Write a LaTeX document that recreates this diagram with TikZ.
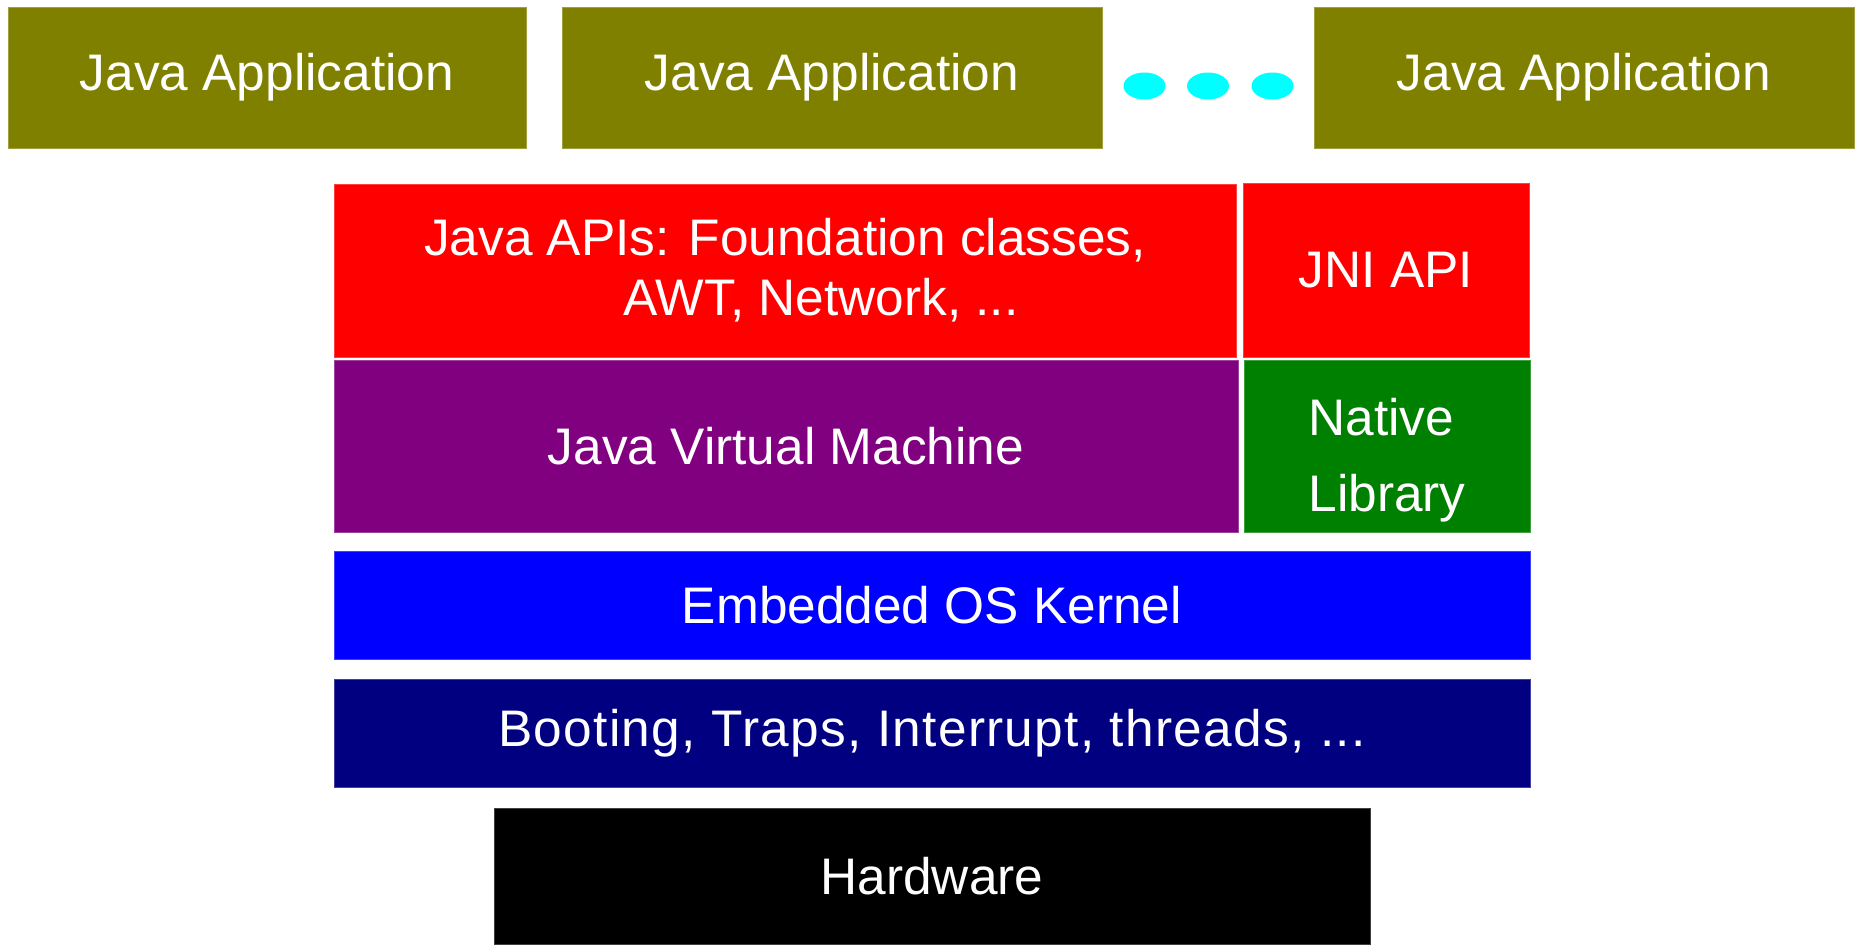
\documentclass[tikz,border=0pt]{standalone}
\usepackage{fontspec}
\setmainfont{Liberation Sans}
\usepackage{tikz}
\usetikzlibrary{
  shapes.geometric,
  positioning
}
\definecolor{appolive}{RGB}{128,128,0}
\definecolor{apired}{RGB}{255,0,0}
\definecolor{jvmpurple}{RGB}{128,0,128}
\definecolor{libgreen}{RGB}{0,128,0}
\definecolor{kernelblue}{RGB}{0,0,255}
\definecolor{bootnavy}{RGB}{0,0,128}
\definecolor{dotcyan}{RGB}{0,255,255}
\tikzset{
  layer/.style={
    rectangle, fill=#1, draw=#1!75!white, line width=0.35pt,
    inner sep=0pt, outer sep=0pt, anchor=north west,
    align=center, text=white,
    font=\fontsize{25.7}{30}\selectfont
  },
  appbox/.style={
    layer=appolive,
    minimum width=270pt, minimum height=70.5pt
  },
  sidebox/.style={
    minimum width=143pt, minimum height=86.5pt
  },
  dotmark/.style={
    ellipse, fill=dotcyan, draw=none,
    minimum width=21pt, minimum height=13.5pt, inner sep=0pt
  }
}

\begin{document}
\begin{tikzpicture}[x=0.5pt, y=-0.5pt]
\useasboundingbox (0,0) rectangle (1858,944);

% ── Applications row ────────────────────────────────────────────────────────
\node[appbox, minimum width=259pt] (app1) at (8,7) {Java Application};
\node[appbox, right=18pt of app1] (app2) {Java Application};
\node[appbox] (app3) at (1314,7) {Java Application};

\node[dotmark] (dot1) at (1144.5,86) {};
\node[dotmark] (dot2) at (1208,86) {};
\node[dotmark] (dot3) at (1272.5,86) {};

% ── APIs ────────────────────────────────────────────────────────────────────
\node[layer=apired, minimum width=451pt, minimum height=86.5pt] (javaapi)
  at (334,184) {Java APIs: Foundation classes,\\\hspace*{36pt}AWT, Network, ...};
\node[layer=apired, sidebox, minimum height=87pt] (jniapi) at (1243,183)
  {JNI API};

% ── Virtual machine + native code ───────────────────────────────────────────
\node[layer=jvmpurple, minimum width=452pt, minimum height=86pt,
      below=1.5pt of javaapi.south west, anchor=north west] (jvm)
  {Java Virtual Machine};
\node[layer=libgreen, sidebox, minimum height=86pt, align=left,
      font=\fontsize{25.7}{38}\selectfont] (natlib) at (1244,360)
  {\rule{0pt}{33pt}Native\\Library};

% ── OS and hardware ─────────────────────────────────────────────────────────
\node[layer=kernelblue, minimum width=598pt, minimum height=54pt] (oskernel)
  at (334,551) {Embedded OS Kernel};
\node[layer=bootnavy, minimum width=598pt, minimum height=54pt,
      below=10pt of oskernel, anchor=north] (booting)
  {\addfontfeatures{LetterSpace=2.5}Booting, Traps, Interrupt, threads, ...};
\node[layer=black, minimum width=438pt, minimum height=68pt] (hardware)
  at (494,808) {Hardware};

\end{tikzpicture}
\end{document}
